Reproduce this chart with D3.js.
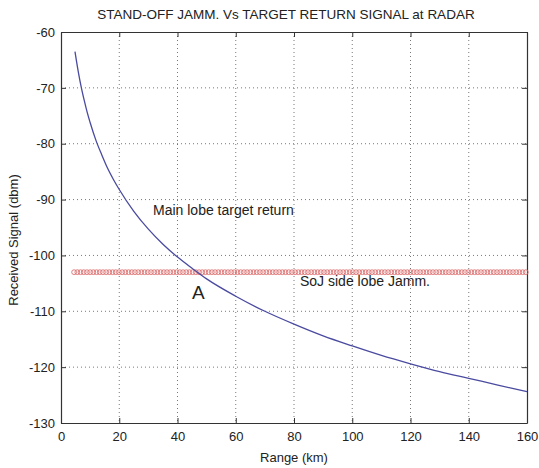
<!DOCTYPE html>
<html lang="en">
<head>
<meta charset="utf-8">
<title>Stand-off jamming vs target return</title>
<script src="https://d3js.org/d3.v7.min.js"></script>
<style>
  body { margin: 0; background: #fff; }
  text { font-family: "Liberation Sans", Arial, sans-serif; fill: #222; }
</style>
</head>
<body>
<script>
// ranges (km) and received target signal (dbm)
var rangeKm = [4.8, 6, 7, 8, 9, 10, 12, 14, 16, 18, 20, 25, 30, 35, 40, 45, 50,
               60, 70, 80, 90, 100, 110, 120, 130, 140, 150, 160];
var targetDbm = [-63.5, -67.3, -70.0, -72.3, -74.4, -76.2, -79.4, -82.0, -84.4, -86.4,
                 -88.2, -92.1, -95.3, -98.0, -100.3, -102.3, -104.2, -107.3, -110.0,
                 -112.3, -114.4, -116.2, -117.9, -119.4, -120.8, -122.0, -123.2, -124.4];
// SoJ side lobe jamming level, drawn from about 4.5 km to 160 km
var jamDbm = -103;
var jamStart = 4.5, jamEnd = 160;

var xTicks = [0, 20, 40, 60, 80, 100, 120, 140, 160];
var yTicks = [-60, -70, -80, -90, -100, -110, -120, -130];

var width = 539, height = 468;
var margin = {top: 32, right: 12, bottom: 45, left: 61};

var svg = d3.select("body").append("svg")
    .attr("width", width)
    .attr("height", height);

var x = d3.scaleLinear().domain([0, 160]).range([margin.left, width - margin.right]);
var y = d3.scaleLinear().domain([-130, -60]).range([height - margin.bottom, margin.top]);

// grid
svg.append("g").selectAll("line")
    .data(xTicks.slice(1, -1))
    .enter().append("line")
    .attr("x1", function (d) { return x(d); })
    .attr("x2", function (d) { return x(d); })
    .attr("y1", y(-60)).attr("y2", y(-130))
    .attr("stroke", "#555").attr("stroke-width", 0.8)
    .attr("stroke-dasharray", "1,3");

svg.append("g").selectAll("line")
    .data(yTicks.slice(1, -1))
    .enter().append("line")
    .attr("y1", function (d) { return y(d); })
    .attr("y2", function (d) { return y(d); })
    .attr("x1", x(0)).attr("x2", x(160))
    .attr("stroke", "#555").attr("stroke-width", 0.8)
    .attr("stroke-dasharray", "1,3");

// axes, matlab style: inward ticks on all four sides
var xb = svg.append("g").attr("transform", "translate(0," + y(-130) + ")")
    .call(d3.axisBottom(x).tickValues(xTicks).tickSizeInner(-5).tickSizeOuter(0).tickPadding(9));
var xt = svg.append("g").attr("transform", "translate(0," + y(-60) + ")")
    .call(d3.axisTop(x).tickValues(xTicks).tickSizeInner(-5).tickSizeOuter(0).tickFormat(""));
var yl = svg.append("g").attr("transform", "translate(" + x(0) + ",0)")
    .call(d3.axisLeft(y).tickValues(yTicks).tickSizeInner(-5).tickSizeOuter(0).tickPadding(6));
var yr = svg.append("g").attr("transform", "translate(" + x(160) + ",0)")
    .call(d3.axisRight(y).tickValues(yTicks).tickSizeInner(-5).tickSizeOuter(0).tickFormat(""));

[xb, xt, yl, yr].forEach(function (g) {
    g.selectAll("path").attr("stroke", "#333").attr("stroke-width", 1.2);
    g.selectAll("line").attr("stroke", "#333");
    g.selectAll("text").attr("font-size", 13)
        .attr("font-family", "Liberation Sans, Arial, sans-serif").attr("fill", "#222");
});
yl.selectAll("text").text(function (d) { return d; });

// jamming line, drawn as small circle markers
var jamPts = d3.range(jamStart, jamEnd + 0.01, 1.1);
svg.append("g").selectAll("circle")
    .data(jamPts)
    .enter().append("circle")
    .attr("cx", function (d) { return x(d); })
    .attr("cy", y(jamDbm))
    .attr("r", 2.4)
    .attr("fill", "none")
    .attr("stroke", "#dd7070")
    .attr("stroke-width", 0.9);

// target return curve
var line = d3.line()
    .x(function (d, i) { return x(rangeKm[i]); })
    .y(function (d) { return y(d); })
    .curve(d3.curveMonotoneX);

svg.append("path")
    .datum(targetDbm)
    .attr("d", line)
    .attr("fill", "none")
    .attr("stroke", "#4a4aa0")
    .attr("stroke-width", 1.3);

// annotations
svg.append("text").attr("x", 153).attr("y", 215).attr("font-size", 14)
    .text("Main lobe target return");
svg.append("text").attr("x", 300).attr("y", 286).attr("font-size", 14)
    .text("SoJ side lobe Jamm.");
svg.append("text").attr("x", 192).attr("y", 299).attr("font-size", 19)
    .text("A");

// titles
svg.append("text").attr("x", 286).attr("y", 19).attr("text-anchor", "middle")
    .attr("font-size", 13.5).text("STAND-OFF JAMM. Vs TARGET RETURN SIGNAL at RADAR");
svg.append("text").attr("x", 294).attr("y", 462).attr("text-anchor", "middle")
    .attr("font-size", 13).text("Range (km)");
svg.append("text")
    .attr("transform", "translate(18,240) rotate(-90)")
    .attr("text-anchor", "middle").attr("font-size", 13)
    .text("Received Signal (dbm)");
</script>
</body>
</html>
